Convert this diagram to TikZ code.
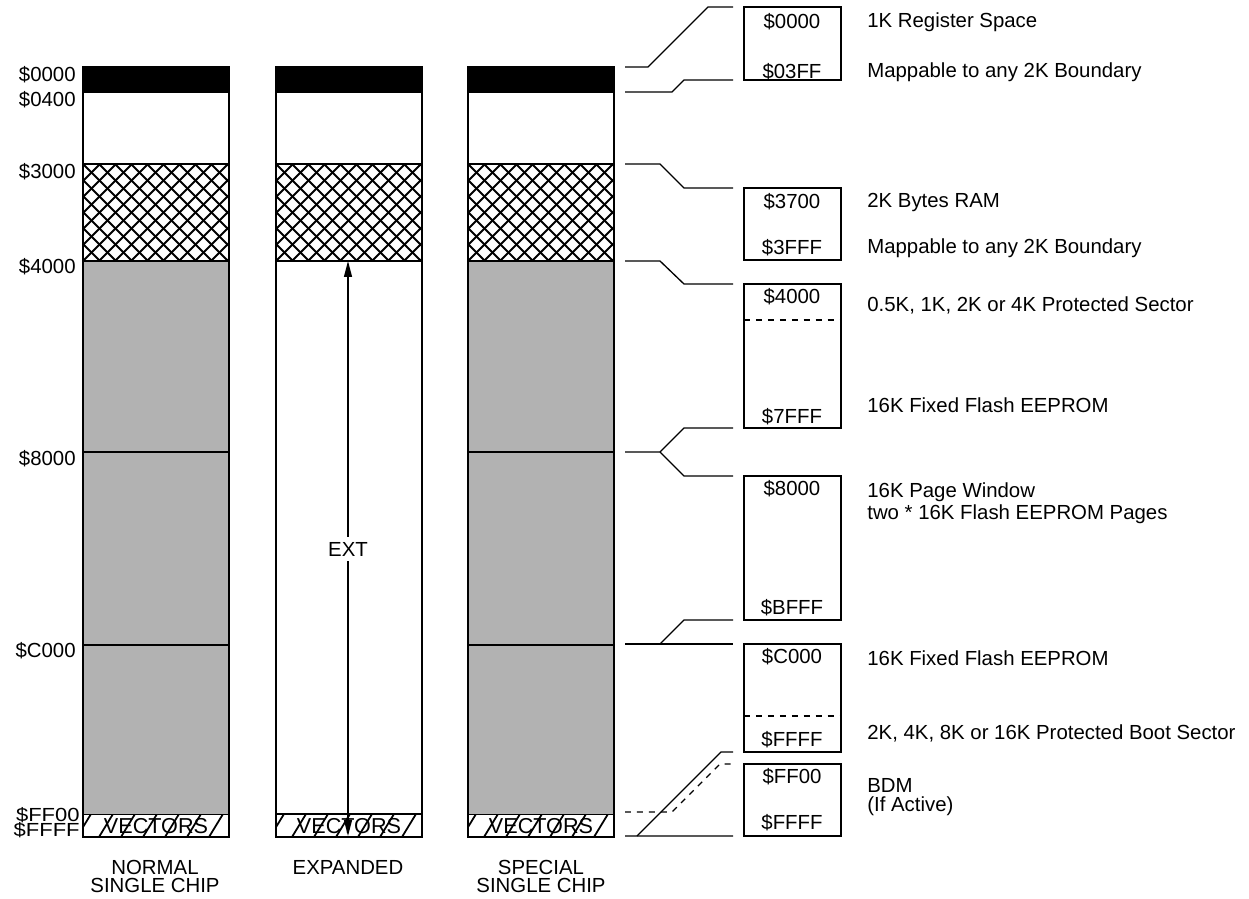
\documentclass[tikz,border=0pt]{standalone}
\usepackage{fontspec}
\setmainfont{Liberation Sans}
\usetikzlibrary{arrows.meta}

\definecolor{memgray}{gray}{0.7}
\newcommand\memfont{\fontsize{11.6}{12.5}\selectfont}

\begin{document}
\begin{tikzpicture}[x=0.02cm,y=-0.02cm,
  every node/.style={font=\memfont,inner sep=0pt},
  colframe/.style={draw,line width=1.2pt},
  divider/.style={line width=1.1pt},
  hatch/.style={line width=1.1pt},
  link/.style={line width=0.75pt},
  dashlink/.style={link,dash pattern=on 3.4pt off 3.4pt},
  mapbox/.style={draw,line width=0.7pt,outer sep=0pt,minimum width=1.94cm,anchor=north west},
  addr/.style={anchor=east},
  note/.style={anchor=west,align=left},
  exttip/.tip={Triangle[length=0.32cm,width=0.16cm]}]
\useasboundingbox (0,0) rectangle (1249,899);

% the three memory maps
\foreach \x/\name in {83/normal,276/expanded,468/special}{
  \fill (\x,67) rectangle (\x+146,93);
  \begin{scope}
    \clip (\x,164) rectangle (\x+146,261);
    \foreach \d in {-96,-80,...,160}{
      \draw[hatch] (\x+\d,261) -- ++(97,-97);
      \draw[hatch] (\x+\d,164) -- ++(97,97);
    }
  \end{scope}
  \begin{scope}
    \clip (\x,814) rectangle (\x+146,837);
    \foreach \d in {-6,16,...,160}
      \draw[hatch,line width=1pt] (\x+\d,837) -- ++(14,-23);
  \end{scope}
  \draw[divider] (\x,164) -- (\x+146,164) (\x,261) -- (\x+146,261) (\x,814) -- (\x+146,814);
  \node (vec-\name) at (\x+73,826) {\scalebox{1.06}{VECTORS}};
}
\foreach \x in {83,468}{
  \fill[memgray] (\x,261.5) rectangle (\x+146,813.5);
  \draw[divider] (\x,452) -- (\x+146,452) (\x,645) -- (\x+146,645);
}
\foreach \x in {83,276,468}
  \draw[colframe] (\x,67) rectangle (\x+146,837);

% external space
\coordinate (ext-top) at (348,261);
\coordinate (ext-bot) at (348,836);
\draw[link,exttip-exttip] (ext-top) -- (ext-bot);
\node[fill=white,inner sep=3pt] (ext) at (348,549) {EXT};

% captions
\node (cap-normal) at (155,867) {NORMAL};
\node (cap-normal2) at (155,885) {SINGLE CHIP};
\node (cap-expanded) at (348,867) {EXPANDED};
\node (cap-special) at (541,867) {SPECIAL};
\node (cap-special2) at (541,885) {SINGLE CHIP};

% addresses on the left
\node[addr] (l0000) at (76,75) {\$0000};
\node[addr] (l0400) at (76,100) {\$0400};
\node[addr] (l3000) at (76,172) {\$3000};
\node[addr] (l4000) at (76,267) {\$4000};
\node[addr] (l8000) at (76,459) {\$8000};
\node[addr] (lC000) at (76,651) {\$C000};
\node[addr] (lFF00) at (80,815) {\scalebox{1.08}[0.93]{\$FF00}};
\node[addr] (lFFFF) at (80,830) {\scalebox{1.08}[0.93]{\$FFFF}};

% blocks on the right
\node[mapbox,minimum height=1.46cm] (regs) at (744,7) {};
\node[mapbox,minimum height=1.44cm] (ram) at (744,188) {};
\node[mapbox,minimum height=2.88cm] (fixlo) at (744,284) {};
\node[mapbox,minimum height=2.88cm] (page) at (744,476) {};
\node[mapbox,minimum height=2.16cm] (fixhi) at (744,644) {};
\node[mapbox,minimum height=1.44cm] (bdm) at (744,764) {};
\draw[dashlink] (744,320) -- (841,320);
\draw[dashlink] (744,716) -- (841,716);

\node (regs-a) at (792,22) {\$0000};
\node (regs-b) at (792,72) {\$03FF};
\node (ram-a) at (792,202) {\$3700};
\node (ram-b) at (792,248) {\$3FFF};
\node (fixlo-a) at (792,297) {\$4000};
\node (fixlo-b) at (792,417) {\$7FFF};
\node (page-a) at (792,489) {\$8000};
\node (page-b) at (792,608) {\$BFFF};
\node (fixhi-a) at (792,657) {\$C000};
\node (fixhi-b) at (792,740) {\$FFFF};
\node (bdm-a) at (792,777) {\$FF00};
\node (bdm-b) at (792,823) {\$FFFF};

\node[note] (t-regs) at (867,22) {1K Register Space};
\node[note] (t-regs2) at (867,72) {Mappable to any 2K Boundary};
\node[note] (t-ram) at (867,202) {2K Bytes RAM};
\node[note] (t-ram2) at (867,248) {Mappable to any 2K Boundary};
\node[note] (t-prot) at (867,305) {0.5K, 1K, 2K or 4K Protected Sector};
\node[note] (t-fixlo) at (867,405) {16K Fixed Flash EEPROM};
\node[note] (t-page) at (867,503) {16K Page Window\\two * 16K Flash EEPROM Pages};
\node[note] (t-fixhi) at (867,658) {16K Fixed Flash EEPROM};
\node[note] (t-boot) at (867,733) {2K, 4K, 8K or 16K Protected Boot Sector};
\node[note,font=\fontsize{11.6}{10.6}\selectfont] (t-bdm) at (867,797) {BDM\\(If Active)};

% links from the special map to the blocks
\coordinate (s0000) at (625,67);
\coordinate (s0400) at (625,92);
\coordinate (s3000) at (625,164);
\coordinate (s4000) at (625,261);
\coordinate (s8000) at (625,452);
\coordinate (sC000) at (625,644);
\coordinate (sFF00) at (625,812);
\coordinate (sFFFF) at (625,836);
\draw[link] (s0000) -- ++(23,0) -- (708,7) -- ([xshift=-0.22cm]regs.north west);
\draw[link] (s0400) -- ++(47,0) -- (684,80) -- ([xshift=-0.22cm]regs.south west);
\draw[link] (s3000) -- ++(35,0) -- (684,188) -- ([xshift=-0.22cm]ram.north west);
\draw[link] (s4000) -- ++(35,0) -- (684,284) -- ([xshift=-0.22cm]fixlo.north west);
\draw[link] (s8000) -- ++(35,0) coordinate (k8000) -- (684,428) -- ([xshift=-0.22cm]fixlo.south west);
\draw[link] (k8000) -- (684,476) -- ([xshift=-0.22cm]page.north west);
\draw[link] (sC000) -- ++(35,0) coordinate (kC000) -- ([xshift=-0.22cm]fixhi.north west);
\draw[link] (kC000) -- (684,620) -- ([xshift=-0.22cm]page.south west);
\draw[link] (sFFFF) -- ++(12,0) coordinate (kFFFF) -- ([xshift=-0.22cm]bdm.south west);
\draw[link] (kFFFF) -- (721,752) -- ([xshift=-0.22cm]fixhi.south west);
\draw[dashlink] (sFF00) -- ++(47,0) -- (720,764) -- ([xshift=-0.22cm]bdm.north west);
\end{tikzpicture}
\end{document}
